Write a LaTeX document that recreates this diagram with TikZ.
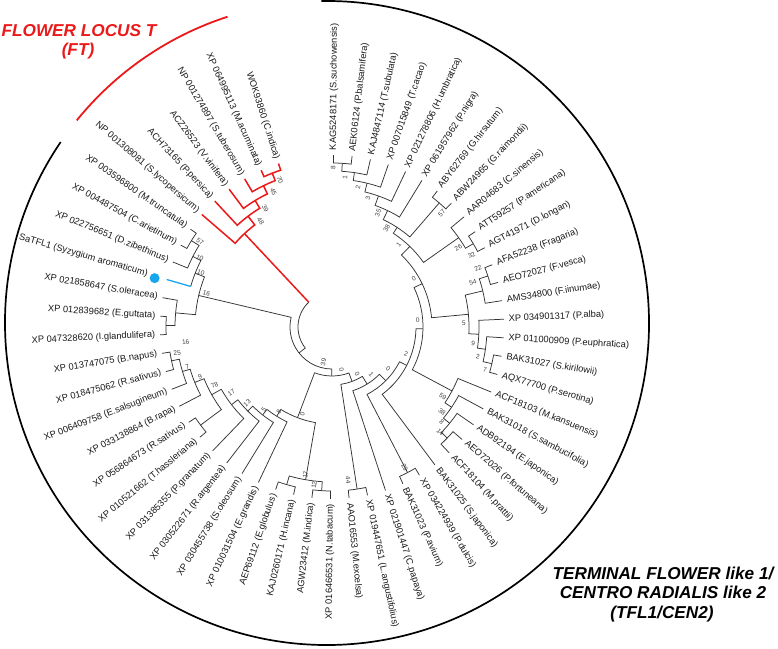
\documentclass[tikz,border=0pt]{standalone}
\usepackage{fontspec}
\setmainfont{Liberation Sans}
\definecolor{ftred}{RGB}{235,25,25}
\definecolor{sablue}{RGB}{25,165,235}
\newcommand\tnode[6][br]{\draw[#1] (#2:#3pt) -- (#2:#6pt) arc[start angle=#2, end angle=#4, radius=#6pt] -- (#4:#5pt);}
\newcommand\leafR[3]{\node[lab,rotate=#2,anchor=west] (#1) at (#2:177pt) {#3};}
\newcommand\leafL[3]{\node[lab,rotate=#2+180,anchor=east] (#1) at (#2:177pt) {#3};}
\newcommand\bsv[3]{\pgfmathsetmacro\bsrot{ifthenelse(mod(#1+450,360)<180,#1,#1+180)}\node[bs,rotate=\bsrot] at (#1:#2pt) {#3};}
\begin{document}
\begin{tikzpicture}[x=1pt,y=1pt,
  br/.style={draw=black!80, line width=0.75pt},
  ftbr/.style={draw=ftred, line width=1.5pt},
  lab/.style={font=\fontsize{9.3}{10}\selectfont, inner sep=0pt, outer sep=0pt, text=black!90},
  bs/.style={font=\fontsize{6.5}{7}\selectfont, inner sep=0pt, text=black!75},
  title/.style={font=\fontsize{17.2}{20}\selectfont\bfseries\itshape, anchor=base, inner sep=0pt}]
\useasboundingbox (0,0) rectangle (778,648);
% group arcs
\draw[line width=1.7pt] (327,325) ++(145.8:322pt) arc[start angle=145.8, end angle=451, radius=322pt];
\draw[ftred, line width=1.8pt] (327,325) ++(108:322pt) arc[start angle=108, end angle=141, radius=322pt];
\node[title, text=ftred] (ft1) at (79,611) {FLOWER LOCUS T};
\node[title, text=ftred] (ft2) at (78,592) {(FT)};
\node[title] (tf1) at (663,69) {TERMINAL FLOWER like 1/};
\node[title] (tf2) at (663,50) {CENTRO RADIALIS like 2};
\node[title] (tf3) at (662,30) {(TFL1/CEN2)};
\begin{scope}[shift={(332,321)}]
% top clade
\tnode{89.50}{172}{83.29}{172}{164}
\tnode{86.40}{164}{77.09}{172}{156}
\tnode{81.74}{156}{70.88}{172}{148}
\tnode{76.31}{148}{64.67}{172}{139}
\tnode{70.49}{139}{58.47}{172}{129}
\tnode{52.26}{172}{46.05}{172}{164}
\tnode{64.48}{129}{49.16}{164}{119}
\tnode{33.64}{172}{27.43}{172}{164}
\tnode{39.84}{172}{30.54}{164}{155}
\tnode{56.82}{119}{35.19}{155}{112}
% right clade
\tnode{21.22}{172}{15.02}{172}{164}
\tnode{18.12}{164}{8.81}{172}{155}
\tnode{-9.81}{172}{-16.02}{172}{164}
\tnode{-3.60}{172}{-12.92}{164}{155}
\tnode{2.60}{172}{-8.26}{155}{147}
\tnode{13.47}{155}{-2.83}{147}{137}
\tnode{46.01}{112}{5.32}{137}{100}
% lower right
\tnode{-40.85}{172}{-47.05}{172}{160}
\tnode{-34.64}{172}{-43.95}{160}{152}
\tnode{-28.43}{172}{-39.30}{152}{144}
\tnode{-22.23}{172}{-33.87}{144}{136}
\tnode{25.67}{100}{-28.05}{136}{91}
\tnode{-1.19}{91}{-53.26}{172}{84}
\tnode{-59.47}{172}{-65.67}{172}{164}
\tnode{-27.23}{84}{-62.57}{164}{76}
\tnode{-44.90}{76}{-71.88}{172}{67}
\tnode{-78.09}{172}{-84.30}{172}{164}
\tnode{-58.39}{67}{-81.20}{164}{58}
% lower left
\tnode{-90.50}{172}{-96.71}{172}{164}
\tnode{-102.92}{172}{-109.12}{172}{164}
\tnode{-93.61}{164}{-106.02}{164}{155}
\tnode{-164.98}{172}{-171.19}{172}{164}
\tnode{-158.78}{172}{-168.09}{164}{156}
\tnode{-152.57}{172}{-163.43}{156}{148}
\tnode{-140.16}{172}{-146.36}{172}{164}
\tnode{-143.26}{164}{-158.00}{148}{138}
\tnode{-133.95}{172}{-150.63}{138}{127}
\tnode{-127.74}{172}{-142.29}{127}{119}
\tnode{-121.54}{172}{-135.02}{119}{112}
\tnode{-115.33}{172}{-128.28}{112}{105}
\tnode{-99.82}{155}{-121.81}{105}{97}
\tnode{-69.80}{58}{-110.82}{97}{49}
% left clade
\tnode{-208.43}{172}{-214.64}{172}{165}
\tnode{-202.22}{172}{-211.54}{165}{156}
\draw[br] (-196.02:147pt) arc[start angle=-196.02, end angle=-206.88, radius=147pt] -- (-206.88:156pt);
\draw[sablue, line width=1.3pt] (-196.02:147pt) -- (-196.02:172pt);
\fill[sablue] (-195.4:184pt) circle[radius=5pt];
\tnode{-177.40}{172}{-183.60}{172}{166}
\tnode{-189.81}{172}{-180.50}{166}{157}
\tnode{-185.16}{157}{-201.45}{147}{137}
\tnode{-90.31}{49}{-193.31}{137}{42}
% FT clade
\tnode[ftbr]{-245.67}{172}{-251.88}{172}{165}
\tnode[ftbr]{-239.47}{172}{-248.78}{165}{157}
\tnode[ftbr]{-233.26}{172}{-244.12}{157}{148}
\tnode[ftbr]{-227.05}{172}{-238.69}{148}{139}
\tnode[ftbr]{-220.84}{172}{-232.87}{139}{128}
% root
\draw[br] (-141.81:42pt) -- (-141.81:34pt) arc[start angle=-141.81, end angle=-226.86, radius=34pt];
\draw[ftbr] (-226.86:34pt) -- (-226.86:128pt);
% leaf labels
\leafR{l1}{89.50}{KAG5248171 (S.suchowensis)}
\leafR{l2}{83.29}{AEK06124 (P.balsamifera)}
\leafR{l3}{77.09}{KAJ4847114 (T.subulata)}
\leafR{l4}{70.88}{XP 007015849 (T.cacao)}
\leafR{l5}{64.67}{XP 021278806 (H.umbratica)}
\leafR{l6}{58.47}{XP 061957962 (P.nigra)}
\leafR{l7}{52.26}{ABY62769 (G.hirsutum)}
\leafR{l8}{46.05}{ABW24965 (G.raimondii)}
\leafR{l9}{39.84}{AAR04683 (C.sinensis)}
\leafR{l10}{33.64}{ATT59257 (P.americana)}
\leafR{l11}{27.43}{AGT41971 (D.longan)}
\leafR{l12}{21.22}{AFA52238 (Fragaria)}
\leafR{l13}{15.02}{AEO72027 (F.vesca)}
\leafR{l14}{8.81}{AMS34800 (F.iinumae)}
\leafR{l15}{2.60}{XP 034901317 (P.alba)}
\leafR{l16}{-3.60}{XP 011000909 (P.euphratica)}
\leafR{l17}{-9.81}{BAK31027 (S.kirilowii)}
\leafR{l18}{-16.02}{AQX77700 (P.serotina)}
\leafR{l19}{-22.23}{ACF18103 (M.kansuensis)}
\leafR{l20}{-28.43}{BAK31018 (S.sambucifolia)}
\leafR{l21}{-34.64}{ADB92194 (E.japonica)}
\leafR{l22}{-40.85}{AEO72026 (P.fortuneana)}
\leafR{l23}{-47.05}{ACF18104 (M.prattii)}
\leafR{l24}{-53.26}{BAK31025 (S.japonica)}
\leafR{l25}{-59.47}{XP 034224939 (P.dulcis)}
\leafR{l26}{-65.67}{BAK31023 (P.avium)}
\leafR{l27}{-71.88}{XP 021901447 (C.papaya)}
\leafR{l28}{-78.09}{XP 019447651 (L.angustifolius)}
\leafR{l29}{-84.30}{AAO16553 (M.excelsa)}
\leafL{l30}{-90.50}{XP 016466531 (N.tabacum)}
\leafL{l31}{-96.71}{AGW23412 (M.indica)}
\leafL{l32}{-102.92}{KAJ0260171 (H.incana)}
\leafL{l33}{-109.12}{AEP69112 (E.globulus)}
\leafL{l34}{-115.33}{XP 010031504 (E.grandis)}
\leafL{l35}{-121.54}{XP 030455738 (S.oleosum)}
\leafL{l36}{-127.74}{XP 030522671 (R.argentea)}
\leafL{l37}{-133.95}{XP 031385355 (P.granatum)}
\leafL{l38}{-140.16}{XP 010521662 (T.hassleriana)}
\leafL{l39}{-146.36}{XP 056864673 (R.sativus)}
\leafL{l40}{-152.57}{XP 033138864 (B.rapa)}
\leafL{l41}{-158.78}{XP 006409758 (E.salsugineum)}
\leafL{l42}{-164.98}{XP 018475062 (R.sativus)}
\leafL{l43}{-171.19}{XP 013747075 (B.napus)}
\leafL{l44}{-177.40}{XP 047328620 (I.glandulifera)}
\leafL{l45}{-183.60}{XP 012839682 (E.guttata)}
\leafL{l46}{-189.81}{XP 021858647 (S.oleracea)}
\node[lab,rotate=-196.02+180,anchor=east] (l47) at (-196.02:192pt) {SaTFL1 (Syzygium aromaticum)};
\leafL{l48}{-202.22}{XP 022756651 (D.zibethinus)}
\leafL{l49}{-208.43}{XP 004487504 (C.arietinum)}
\leafL{l50}{-214.64}{XP 003596800 (M.truncatula)}
\leafL{l51}{-220.84}{NP 001308081 (S.lycopersicum)}
\leafL{l52}{-227.05}{ACH73165 (P.persica)}
\leafL{l53}{-233.26}{ACZ26523 (V.vinifera)}
\leafL{l54}{-239.47}{NP 001274897 (S.tuberosum)}
\leafL{l55}{-245.67}{XP 064995113 (M.acuminata)}
\leafL{l56}{-251.88}{WOK93860 (C.indica)}
% bootstrap values
\bsv{89.6}{159}{8}
\bsv{85}{149.6}{1}
\bsv{79.5}{142.4}{2}
\bsv{74.4}{134}{3}
\bsv{68}{123}{35}
\bsv{61}{113}{38}
\bsv{51}{106}{1}
\bsv{46}{158}{57}
\bsv{32}{149}{26}
\bsv{27.2}{157}{32}
\bsv{22}{157.5}{22}
\bsv{17.7}{148}{54}
\bsv{1.7}{132}{5}
\bsv{-6.5}{142}{9}
\bsv{-11.6}{149}{2}
\bsv{-15.7}{159}{7}
\bsv{30.5}{95}{0}
\bsv{4.4}{86}{0}
\bsv{-20.2}{79}{2}
\bsv{-36.6}{70}{0}
\bsv{-50.6}{62}{1}
\bsv{-61.6}{53}{0}
\bsv{-77.5}{44}{0}
\bsv{-103.7}{36}{39}
\bsv{-32.2}{131}{59}
\bsv{-37.7}{139}{38}
\bsv{-40.8}{145}{8}
\bsv{-44.2}{151}{14}
\bsv{-62.6}{158}{29}
\bsv{-84}{154}{44}
\bsv{-96.5}{159}{12}
\bsv{-100.2}{150}{17}
\bsv{-108.8}{92}{0}
\bsv{-122.1}{100}{8}
\bsv{-129.5}{107}{5}
\bsv{-138.2}{114}{13}
\bsv{-147}{120}{17}
\bsv{-153.6}{131}{78}
\bsv{-159.3}{141}{9}
\bsv{-164.6}{150}{7}
\bsv{-170.5}{157}{25}
\bsv{-174.2}{147}{16}
\bsv{-195.2}{130}{16}
\bsv{-202.6}{142}{10}
\bsv{-207.6}{149}{10}
\bsv{-212.8}{157}{57}
\bsv{-250.5}{156}{70}
\bsv{-246.6}{147.5}{45}
\bsv{-240.6}{136}{39}
\bsv{-236.1}{128}{48}
\end{scope}
\end{tikzpicture}
\end{document}
